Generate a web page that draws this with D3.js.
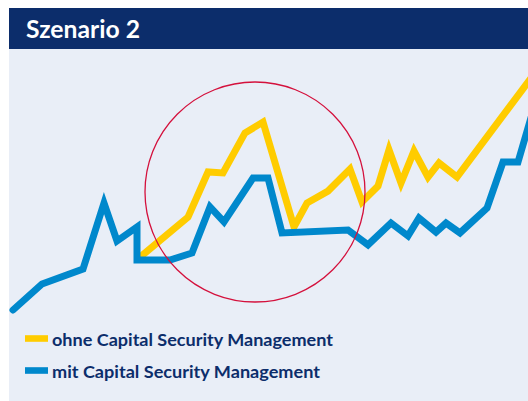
<!DOCTYPE html>
<html><head><meta charset="utf-8">
<script src="https://cdn.jsdelivr.net/npm/d3@7"></script>
<style>html,body{margin:0;padding:0;background:#fff;}svg{display:block;}</style>
</head><body>
<div id="chart"></div>
<script>
const title = "Szenario 2";
const seriesNames = ["ohne Capital Security Management", "mit Capital Security Management"];
const seriesColors = ["#ffcc00", "#0088cc"];

// x in time units, y in index units
const mitX = [0, 5.8, 14, 18.2, 20.8, 24.8, 24.8, 31.4, 35.8, 39.4, 42.2, 48, 51, 53.8, 67, 71, 75.6, 79, 81.2, 84.6, 86.6, 89.4, 94.8, 98, 101, 104.4];
const mitY = [0, 11.3, 17.8, 46.5, 30, 36.1, 21.7, 21.7, 24.8, 44.8, 38.3, 57.4, 57.4, 33.5, 34.8, 28.3, 37.8, 32.2, 40, 33.9, 37.8, 33.5, 44.3, 64.3, 64.3, 89.6];
const ohneX = [25.2, 35, 39, 42, 46.4, 50, 56.2, 58.8, 63, 67.4, 69.8, 73, 75.2, 77.6, 80.2, 83, 85.2, 88.8, 105.4];
const ohneY = [22.6, 40.4, 60, 59.6, 77, 81.7, 36.1, 46.5, 51.7, 61.3, 47, 53.9, 69.6, 55.2, 69.1, 57.8, 63.9, 57.8, 106.1];

// highlight circle (data units)
const circleCenter = [48.4, 51.3];
const circleRadiusX = 22;

const W = 528, H = 401;
const svg = d3.select("#chart").append("svg").attr("width", W).attr("height", H);

// panels
svg.append("rect").attr("x", 9).attr("y", 49).attr("width", W - 9).attr("height", H - 49).attr("fill", "#e9eef7");
svg.append("rect").attr("x", 9).attr("y", 8).attr("width", W - 9).attr("height", 41).attr("fill", "#0c2d6b");
svg.append("text").attr("x", 26).attr("y", 37.5).text(title)
  .attr("fill", "#fff").attr("font-family", "Lato, 'Open Sans', sans-serif").attr("font-weight", 700)
  .attr("font-size", 24).attr("textLength", 114).attr("lengthAdjust", "spacingAndGlyphs");

const x = d3.scaleLinear().domain([0, 103]).range([13, 528]);
const y = d3.scaleLinear().domain([0, 100]).range([310, 80]);

const line = d3.line().x(d => x(d[0])).y(d => y(d[1]));
const plot = svg.append("g");

const ohne = ohneX.map((v, i) => [v, ohneY[i]]);
const mit = mitX.map((v, i) => [v, mitY[i]]);

plot.append("path").datum(ohne).attr("d", line).attr("fill", "none")
  .attr("stroke", seriesColors[0]).attr("stroke-width", 7).attr("stroke-linejoin", "miter").attr("stroke-miterlimit", 10);
plot.append("path").datum(mit).attr("d", line).attr("fill", "none")
  .attr("stroke", seriesColors[1]).attr("stroke-width", 7).attr("stroke-linejoin", "miter").attr("stroke-miterlimit", 10)
  .attr("stroke-linecap", "round");

plot.append("circle").attr("cx", x(circleCenter[0])).attr("cy", y(circleCenter[1]))
  .attr("r", x(circleRadiusX) - x(0)).attr("fill", "none").attr("stroke", "#d4103c").attr("stroke-width", 1.3);

// legend
const legendW = [281, 268];
const lg = svg.append("g");
seriesNames.forEach((name, i) => {
  const yy = 338.5 + i * 32;
  lg.append("rect").attr("x", 25).attr("y", yy - 3.3).attr("width", 23).attr("height", 6.6).attr("fill", seriesColors[i]);
  lg.append("text").attr("x", 52).attr("y", yy + 7.5).text(name)
    .attr("fill", "#0c2d6b").attr("font-family", "Lato, 'Open Sans', sans-serif").attr("font-weight", 700)
    .attr("font-size", 17).attr("textLength", legendW[i]).attr("lengthAdjust", "spacingAndGlyphs");
});
</script>
</body></html>
